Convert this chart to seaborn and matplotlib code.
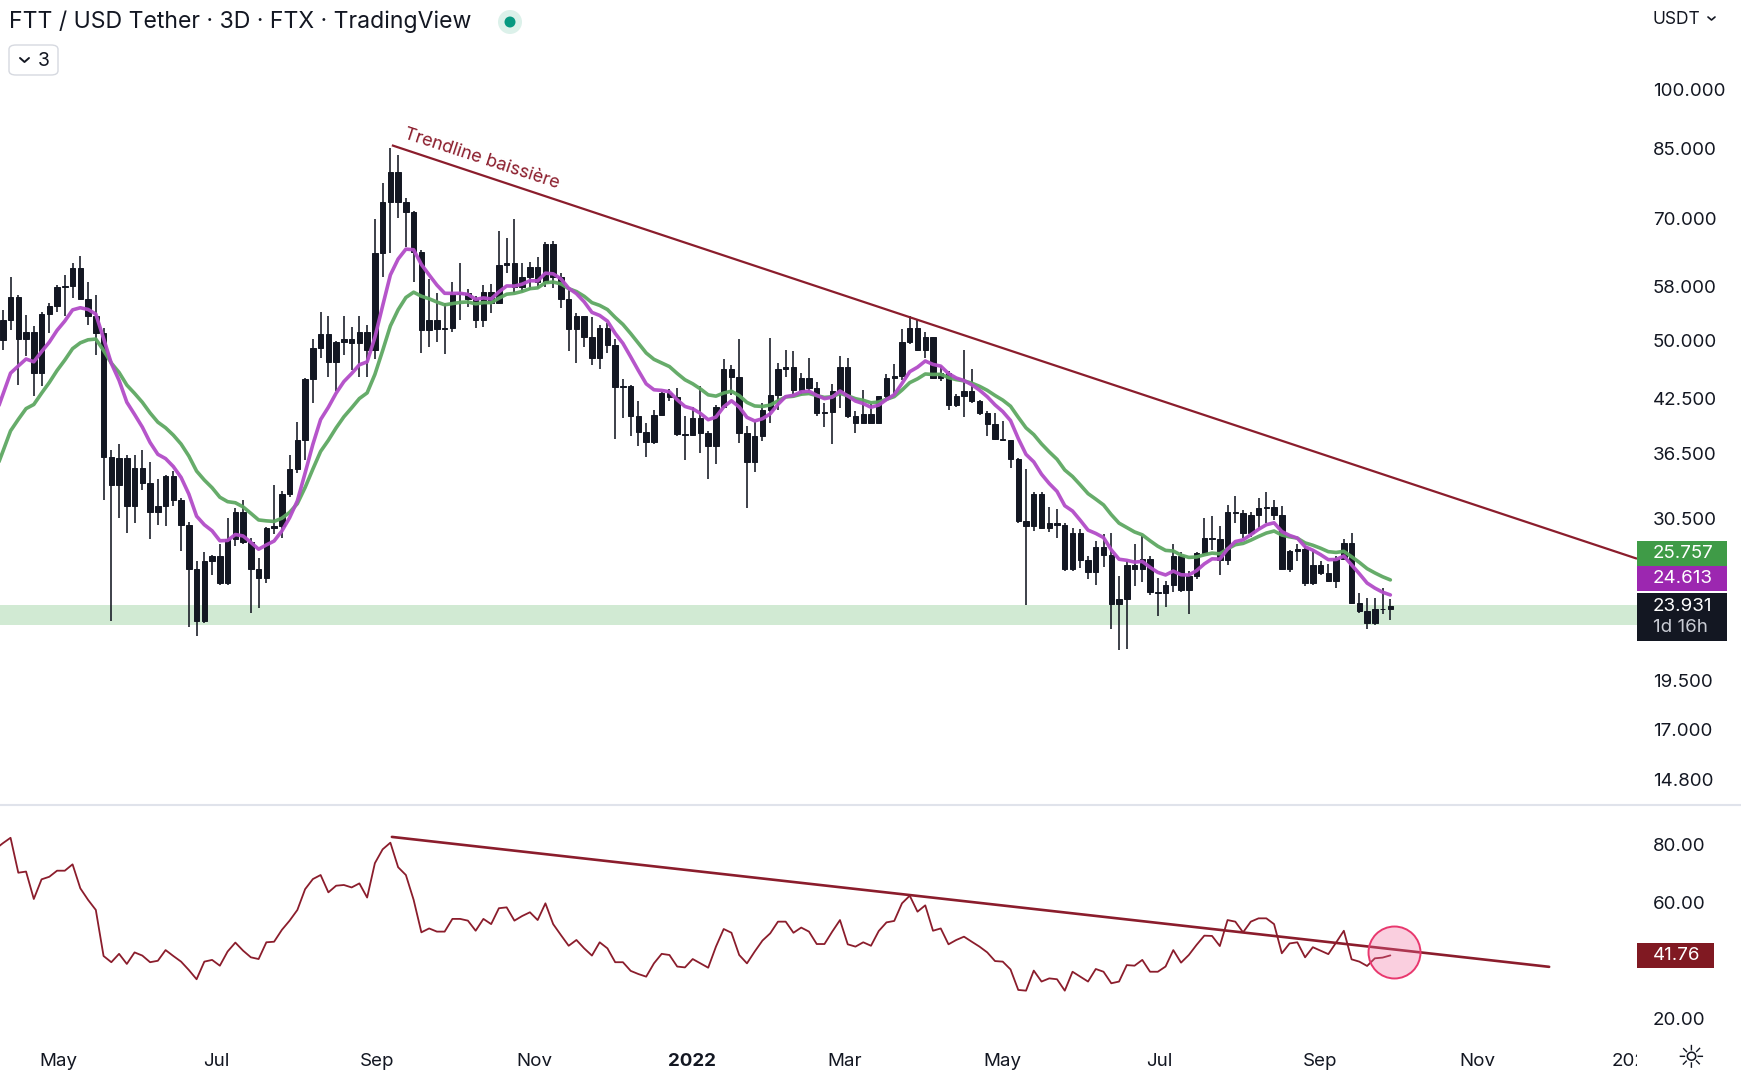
import numpy as np
import pandas as pd
import matplotlib
matplotlib.use("Agg")
import matplotlib.pyplot as plt
import matplotlib.dates as mdates
from matplotlib.patches import Rectangle, FancyBboxPatch, Circle
from matplotlib.lines import Line2D
from matplotlib.transforms import ScaledTranslation
import seaborn as sns

# ---------------- data ----------------
first_candle = "2021-04-06 08:00"      # 3-day candles
first_open = 48.25
closes = [50.06, 52.91, 56.3, 50.2, 51.1, 45.65, 53.8, 54.9, 58.0, 58.1,
          61.0, 56.0, 53.4, 51.0, 36.2, 33.5, 36.1, 31.6, 35.1, 33.7,
          31.1, 31.6, 34.3, 32.1, 30.0, 26.5, 22.95, 27.1, 27.5, 25.5,
          28.8, 31.1, 28.6, 26.5, 25.9, 29.7, 29.9, 32.7, 35.0, 37.9,
          44.9, 48.9, 50.8, 47.1, 49.8, 50.2, 49.6, 51.2, 48.6, 63.6,
          73.4, 79.6, 73.4, 71.3, 63.8, 51.4, 52.9, 51.6, 51.7, 56.85,
          57.0, 56.1, 52.9, 57.1, 55.4, 61.6, 61.9, 58.0, 59.65, 61.2,
          58.8, 65.3, 59.65, 56.0, 51.6, 53.5, 50.5, 47.6, 51.7, 49.4,
          43.9, 44.0, 40.5, 38.8, 37.7, 40.7, 43.2, 42.7, 38.6, 38.5,
          40.3, 38.7, 37.3, 41.6, 46.2, 45.1, 38.7, 35.65, 38.4, 41.2,
          43.0, 46.2, 46.4, 43.5, 45.0, 43.8, 40.9, 40.95, 43.4, 46.4,
          40.5, 39.8, 40.8, 39.8, 42.8, 45.0, 45.3, 49.8, 51.7, 48.7,
          50.4, 45.0, 45.65, 41.8, 42.8, 43.4, 42.2, 40.9, 39.6, 38.0,
          37.95, 36.0, 30.3, 29.9, 32.7, 29.7, 30.1, 30.0, 26.5, 29.3,
          27.2, 26.3, 28.2, 27.6, 24.1, 24.4, 26.85, 26.5, 27.3, 24.9,
          24.8, 25.35, 27.5, 25.05, 26.0, 27.7, 28.9, 28.8, 27.2, 31.1,
          31.0, 29.3, 30.8, 31.4, 31.5, 30.8, 26.55, 27.85, 28.05, 25.5,
          26.85, 26.25, 25.7, 27.3, 28.55, 24.15, 23.6, 22.85, 23.75, 23.75,
          23.931]
highs = [50.3, 54.4, 59.65, 56.7, 53.65, 51.94, 54.0, 55.4, 58.3, 59.9,
         62.0, 63.2, 58.8, 56.7, 51.7, 36.9, 37.5, 36.4, 36.4, 36.9,
         35.7, 34.0, 34.4, 34.85, 32.3, 30.2, 27.1, 27.8, 27.6, 28.4,
         30.55, 31.4, 32.1, 28.9, 27.35, 29.8, 33.5, 32.9, 36.4, 39.9,
         45.0, 50.2, 54.1, 53.4, 49.9, 53.5, 51.9, 53.5, 52.2, 70.0,
         77.2, 85.1, 83.5, 74.1, 71.55, 64.2, 59.3, 57.0, 55.4, 58.7,
         62.0, 57.65, 56.5, 58.2, 58.5, 67.6, 66.3, 69.9, 61.9, 62.1,
         62.9, 65.7, 65.8, 60.2, 57.5, 53.9, 53.5, 53.3, 52.2, 52.5,
         50.1, 44.9, 44.2, 42.2, 39.8, 41.2, 43.3, 43.7, 43.8, 40.5,
         41.6, 44.0, 38.9, 41.8, 47.5, 46.7, 50.1, 39.4, 39.9, 42.0,
         50.3, 47.0, 48.7, 48.55, 45.65, 47.6, 44.5, 42.0, 44.3, 47.8,
         47.6, 41.05, 43.6, 41.9, 42.9, 45.5, 46.8, 51.55, 53.4, 53.0,
         51.2, 50.5, 46.6, 45.9, 43.1, 48.6, 46.2, 42.4, 41.05, 40.9,
         40.0, 37.95, 36.1, 35.0, 32.8, 32.8, 31.5, 31.3, 30.1, 29.7,
         29.6, 27.5, 28.7, 29.2, 29.3, 26.0, 27.1, 28.4, 29.1, 27.5,
         25.9, 25.65, 28.4, 27.8, 26.35, 27.8, 30.55, 30.7, 29.9, 31.7,
         32.5, 31.2, 31.1, 32.3, 32.8, 32.1, 31.6, 28.0, 28.4, 28.3,
         27.9, 27.1, 26.9, 27.5, 28.8, 29.3, 24.8, 24.5, 24.5, 25.15,
         24.4]
lows = [46.07, 48.7, 51.5, 44.2, 47.8, 42.8, 44.0, 51.0, 54.0, 53.4,
        56.2, 55.9, 52.2, 48.0, 32.1, 22.95, 30.55, 29.3, 30.1, 33.0,
        28.8, 30.0, 29.9, 31.6, 27.9, 22.6, 22.05, 22.85, 26.1, 25.4,
        25.4, 28.25, 28.4, 23.5, 23.8, 25.5, 29.2, 28.9, 32.4, 34.6,
        35.9, 42.0, 47.6, 45.1, 43.4, 48.0, 46.1, 45.1, 45.2, 47.4,
        59.65, 63.6, 70.1, 64.8, 58.8, 48.25, 49.1, 49.8, 48.1, 51.2,
        52.9, 54.8, 51.7, 51.8, 53.9, 55.4, 60.2, 57.0, 57.2, 57.5,
        57.8, 58.0, 57.8, 54.6, 48.5, 46.9, 49.1, 46.7, 46.2, 48.3,
        38.0, 40.3, 38.3, 37.3, 36.2, 37.5, 40.6, 42.2, 38.3, 35.9,
        38.3, 36.6, 34.0, 35.5, 41.4, 43.0, 37.6, 31.4, 34.7, 37.8,
        39.75, 41.2, 45.2, 43.0, 43.0, 43.4, 40.5, 39.3, 37.5, 41.4,
        40.3, 38.7, 39.75, 39.75, 39.75, 42.6, 42.8, 44.8, 49.5, 48.5,
        47.6, 44.9, 44.7, 41.2, 41.5, 40.4, 42.0, 40.6, 38.4, 37.95,
        37.8, 35.1, 30.1, 24.0, 29.45, 29.6, 29.4, 28.9, 26.35, 26.4,
        26.6, 25.8, 25.4, 26.7, 22.5, 21.2, 21.25, 25.3, 25.6, 24.7,
        23.3, 23.9, 24.9, 24.9, 23.45, 25.8, 27.6, 28.0, 26.1, 26.85,
        30.1, 28.95, 29.0, 29.6, 30.1, 30.4, 26.5, 26.3, 27.1, 25.3,
        25.4, 26.1, 25.6, 25.2, 27.2, 24.1, 23.5, 22.5, 22.7, 23.4,
        23.06]
rsi_values = [78.5, 80.6, 82.5, 70.4, 70.8, 61.3, 68.1, 69.0, 71.1, 71.1,
              73.3, 65.0, 61.0, 57.5, 41.55, 39.4, 42.3, 38.8, 42.8, 41.7,
              39.4, 39.9, 43.6, 41.55, 39.6, 36.7, 33.5, 39.6, 40.2, 38.2,
              43.1, 46.2, 43.4, 41.1, 40.5, 46.3, 46.5, 50.6, 53.8, 57.5,
              64.7, 68.2, 69.6, 63.6, 65.9, 66.15, 65.3, 66.7, 61.8, 73.7,
              78.5, 80.8, 72.3, 69.6, 61.0, 49.75, 51.1, 50.0, 50.0, 54.4,
              54.4, 53.8, 50.3, 54.4, 52.6, 58.1, 58.4, 53.8, 55.4, 56.7,
              54.0, 59.8, 52.6, 48.8, 45.1, 47.1, 44.2, 41.7, 46.3, 44.2,
              39.4, 39.4, 36.4, 35.3, 34.4, 39.0, 42.3, 41.9, 37.9, 37.6,
              40.5, 39.0, 37.5, 44.8, 50.9, 49.6, 41.9, 39.0, 43.1, 46.9,
              49.4, 53.45, 53.45, 49.6, 51.4, 50.0, 45.7, 45.7, 50.0, 54.0,
              45.6, 44.8, 46.3, 45.1, 50.2, 53.2, 53.7, 59.8, 62.45, 56.9,
              59.1, 50.3, 51.1, 45.6, 47.1, 48.25, 46.5, 44.8, 42.8, 39.8,
              39.6, 36.9, 29.8, 29.55, 36.5, 32.7, 33.8, 33.5, 29.55, 36.1,
              34.4, 32.7, 37.05, 36.1, 32.1, 32.7, 38.4, 38.2, 40.2, 36.1,
              36.1, 37.9, 43.6, 39.25, 41.9, 45.4, 48.6, 48.5, 45.0, 54.0,
              53.45, 49.75, 53.45, 54.6, 54.6, 52.6, 42.5, 45.9, 46.3, 41.1,
              44.6, 43.4, 42.2, 46.2, 50.3, 40.4, 39.6, 38.1, 40.75, 41.0,
              41.76]

ema_fast_span, ema_slow_span = 9, 17
ema_fast_start, ema_slow_start = 40.5, 34.7
label_ema_slow, label_ema_fast, label_close = "25.757", "24.613", "23.931"
label_countdown = "1d 16h"
label_rsi = "41.76"
rsi_last = 41.76
support_band = (22.7, 24.0)

price_ticks = [100, 85, 70, 58, 50, 42.5, 36.5, 30.5, 19.5, 17, 14.8]
price_tick_labels = ["100.000", "85.000", "70.000", "58.000", "50.000", "42.500",
                     "36.500", "30.500", "19.500", "17.000", "14.800"]
rsi_ticks = [80, 60, 20]
rsi_tick_labels = ["80.00", "60.00", "20.00"]
month_ticks = ["2021-05-01", "2021-07-01", "2021-09-01", "2021-11-01", "2022-01-01",
               "2022-03-01", "2022-05-01", "2022-07-01", "2022-09-01", "2022-11-01",
               "2023-01-01"]
month_labels = ["May", "Jul", "Sep", "Nov", "2022", "Mar", "May", "Jul", "Sep", "Nov", "2023"]

trend_price = [("2021-09-06 22:00", 85.8), ("2023-01-01 19:00", 27.3)]
trend_label = "Trendline baissière"
trend_label_at = ("2021-09-11 05:00", 87.43)
trend_rsi = [("2021-09-06 22:00", 82.8), ("2022-11-28 19:00", 37.8)]
circle_at = ("2022-09-29 17:00", 42.9)
x_range = ("2021-04-08 06:00", "2023-01-01 19:00")
price_range = (13.8, 128.3)
rsi_range = (14.19, 93.16)

title = "FTT / USD Tether · 3D · FTX · TradingView"

# ---------------- style ----------------
sns.set_theme(style="white")
plt.rcParams["font.family"] = ["Inter", "DejaVu Sans"]
INK = "#131722"
RED = "#8b1d2c"
PURPLE = "#b24cc8"
GREEN = "#5ea862"
FS = 13.5

dates = pd.date_range(first_candle, periods=len(closes), freq="3D")
xn = mdates.date2num(dates)
opens = [first_open] + closes[:-1]


def ema(values, span, start):
    a = 2.0 / (span + 1)
    out = [start]
    for v in values[1:]:
        out.append(out[-1] + a * (v - out[-1]))
    return out


ema_fast = ema(closes, ema_fast_span, ema_fast_start)
ema_slow = ema(closes, ema_slow_span, ema_slow_start)

W, H = 1741, 1080
fig = plt.figure(figsize=(W / 100, H / 100), dpi=100)
fig.patch.set_facecolor("white")
ax = fig.add_axes([0, 275 / H, 1637 / W, 805 / H])
axr = fig.add_axes([0, 45 / H, 1637 / W, 228 / H])

xl = mdates.date2num(pd.to_datetime(list(x_range)))
for a in (ax, axr):
    a.set_facecolor("white")
    for s in a.spines.values():
        s.set_visible(False)
    a.set_xlim(*xl)

# ---- price pane ----
ax.set_yscale("log")
ax.set_ylim(*price_range)
ax.axhspan(support_band[0], support_band[1], color="#d1ead3", lw=0, zorder=0)

ax.vlines(xn, lows, highs, color=INK, lw=1.15, zorder=3)
body_lo = np.minimum(opens, closes)
body_h = np.abs(np.array(closes) - np.array(opens))
ax.bar(xn, body_h, bottom=body_lo, width=2.1, color=INK, edgecolor=INK,
       linewidth=0.7, zorder=4)

df_ema = pd.DataFrame({"x": xn, "fast": ema_fast, "slow": ema_slow})
sns.lineplot(data=df_ema, x="x", y="slow", ax=ax, color=GREEN, lw=2.6, alpha=0.95,
             zorder=5, legend=False)
sns.lineplot(data=df_ema, x="x", y="fast", ax=ax, color=PURPLE, lw=2.6, alpha=0.95,
             zorder=6, legend=False)

tp_x = mdates.date2num(pd.to_datetime([p[0] for p in trend_price]))
ax.plot(tp_x, [p[1] for p in trend_price], color=RED, lw=1.6, zorder=7,
        solid_capstyle="butt")
ax.text(mdates.date2num(pd.Timestamp(trend_label_at[0])), trend_label_at[1], trend_label,
        rotation=-18.1, rotation_mode="anchor", ha="left", va="baseline",
        color=RED, fontsize=13, zorder=8)

ax.set_ylabel("")
ax.set_xlabel("")
ax.yaxis.tick_right()
ax.yaxis.set_minor_locator(matplotlib.ticker.NullLocator())
ax.yaxis.set_minor_formatter(matplotlib.ticker.NullFormatter())
ax.set_yticks(price_ticks)
ax.set_yticklabels(price_tick_labels)
ax.tick_params(axis="y", length=0, pad=11.5, labelsize=FS, labelcolor=INK)
ax.tick_params(axis="x", length=0, labelbottom=False)
ax.set_xticks([])


def side_box(axis, value, text, fc, tc, top, bottom, w=90, dx=16, dy=0):
    base = ScaledTranslation(1.0, value, axis.get_yaxis_transform())
    r = Rectangle((0, bottom), w, top - bottom, transform=base, facecolor=fc,
                  edgecolor="none", clip_on=False, zorder=20)
    axis.add_artist(r)
    axis.text(dx, dy, text, transform=base, ha="left", va="center", color=tc,
              fontsize=FS, clip_on=False, zorder=21)


close_val = float(label_close)
side_box(ax, close_val, label_close, INK, "white", 13, -34.7)
ax.text(16, -21, label_countdown, transform=ScaledTranslation(1.0, close_val, ax.get_yaxis_transform()),
        ha="left", va="center", color="#c9ccd4", fontsize=FS, clip_on=False, zorder=21)
side_box(ax, close_val, label_ema_fast, "#9c27b0", "white", 40, 15, dy=27.5)
side_box(ax, close_val, label_ema_slow, "#3f9b47", "white", 65.4, 40.6, dy=53)

# ---- RSI pane ----
axr.set_ylim(*rsi_range)
df_rsi = pd.DataFrame({"x": xn, "rsi": rsi_values})
sns.lineplot(data=df_rsi, x="x", y="rsi", ax=axr, color=RED, lw=1.3, zorder=4, legend=False)
tr_x = mdates.date2num(pd.to_datetime([p[0] for p in trend_rsi]))
axr.plot(tr_x, [p[1] for p in trend_rsi], color=RED, lw=1.9, zorder=5)
axr.scatter([mdates.date2num(pd.Timestamp(circle_at[0]))], [circle_at[1]], s=1400,
            facecolor=(0.95, 0.42, 0.62, 0.32), edgecolor="#e8386e", linewidth=1.4,
            zorder=6)
axr.set_ylabel("")
axr.set_xlabel("")
axr.yaxis.tick_right()
axr.set_yticks(rsi_ticks)
axr.set_yticklabels(rsi_tick_labels)
axr.tick_params(axis="y", length=0, pad=11.5, labelsize=FS, labelcolor=INK)
mt = mdates.date2num(pd.to_datetime(month_ticks))
axr.set_xticks(mt)
axr.set_xticklabels(month_labels)
axr.tick_params(axis="x", length=0, pad=13, labelsize=FS, labelcolor=INK)
for t in axr.get_xticklabels():
    if t.get_text() == "2022":
        t.set_fontweight("bold")
side_box(axr, rsi_last, label_rsi, "#801922", "white", 12.8, -12.8, w=77)

# ---- figure decorations ----
fig.add_artist(Line2D([0, 1], [1 - 805 / H, 1 - 805 / H], transform=fig.transFigure,
                      color="#e0e3eb", lw=1.5, zorder=3))
fig.add_artist(Rectangle((1637 / W, 0), 1 - 1637 / W, 40 / H, transform=fig.transFigure,
                         facecolor="white", edgecolor="none", zorder=5))
fig.text(1691 / W, 1 - 1060 / H, "☼", ha="center", va="center", fontsize=23,
         color=INK, family="DejaVu Sans", zorder=6)

fig.text(9 / W, 1 - 22 / H, title, ha="left", va="center", fontsize=16.6, color=INK)
fig.add_artist(Circle((5.10, (H - 22) / 100), 0.12, transform=fig.dpi_scale_trans,
                      facecolor="#dcf1ea", edgecolor="none"))
fig.add_artist(Circle((5.10, (H - 22) / 100), 0.055, transform=fig.dpi_scale_trans,
                      facecolor="#089981", edgecolor="none"))
fig.add_artist(FancyBboxPatch((9 / W, 1 - 75 / H), 49 / W, 30 / H,
                              boxstyle="round,pad=0,rounding_size=0.004",
                              transform=fig.transFigure, facecolor="white",
                              edgecolor="#d6d9e0", lw=1.0))
fig.add_artist(Line2D([20 / W, 24.5 / W, 29 / W], [1 - 58 / H, 1 - 62 / H, 1 - 58 / H],
                      transform=fig.transFigure, color=INK, lw=1.4))
fig.text(44 / W, 1 - 61 / H, "3", ha="center", va="center", fontsize=14, color=INK)
fig.text(1652 / W, 1 - 19 / H, "USDT", ha="left", va="center", fontsize=12.5, color=INK)
fig.add_artist(Line2D([1708 / W, 1711.5 / W, 1715 / W], [1 - 17 / H, 1 - 20 / H, 1 - 17 / H],
                      transform=fig.transFigure, color=INK, lw=1.2))

fig.savefig("out.png", dpi=100, facecolor="white")
